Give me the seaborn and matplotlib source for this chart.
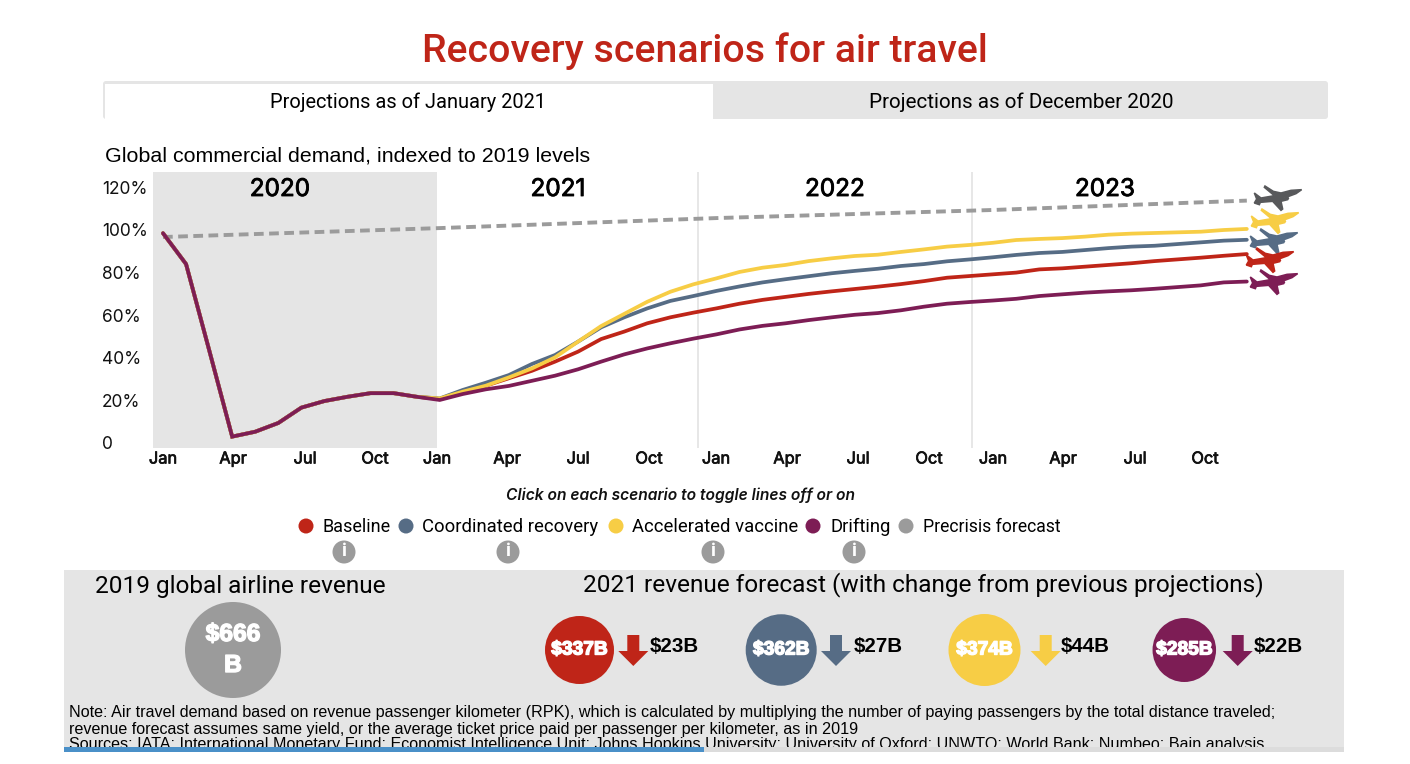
import numpy as np
import pandas as pd
import matplotlib
matplotlib.use("Agg")
import matplotlib.pyplot as plt
import seaborn as sns
from matplotlib.patches import Rectangle, Ellipse, Polygon, FancyBboxPatch
from matplotlib import patheffects as pe

# 数据
history_2020 = [98.5, 84, 43.7, 3, 5.3, 9.4, 16.6, 19.7, 21.7, 23.4, 23.4, 21.7]
baseline = [20.7, 24.1, 26.9, 30.4, 33.9, 38.2, 42.9, 48.8, 52.3, 56.2, 59, 61.2,
            63.2, 65.4, 67.2, 68.6, 70, 71.2, 72.3, 73.4, 74.6, 76, 77.6, 78.4,
            79.2, 80, 81.5, 82, 82.8, 83.6, 84.4, 85.4, 86.2, 87, 87.9, 88.7]
coordinated = [20.9, 24.9, 28.3, 31.9, 37.1, 41.3, 47.6, 54.3, 59, 63.2, 66.7, 69,
               71.4, 73.5, 75.4, 76.9, 78.3, 79.7, 80.8, 81.8, 83.1, 84, 85.3, 86.2,
               87.2, 88.3, 89.2, 89.7, 90.6, 91.5, 92.2, 92.6, 93.4, 94.2, 95, 95.4]
accelerated = [20.9, 24.1, 26.9, 30.8, 35, 40.2, 47.6, 54.9, 60.6, 66.3, 71, 74.5,
               77.3, 80.3, 82.3, 83.6, 85.4, 86.7, 87.8, 88.4, 89.7, 90.9, 92.2, 93,
               94, 95.3, 95.8, 96.2, 96.9, 97.8, 98.3, 98.6, 98.9, 99.2, 100, 100.5]
drifting = [20.2, 23, 25.2, 26.8, 29.2, 31.6, 34.6, 38.2, 41.6, 44.4, 46.8, 49,
            51, 53.3, 55, 56.2, 57.7, 59, 60.2, 61, 62.3, 64, 65.4, 66.2,
            66.9, 67.7, 69, 69.8, 70.6, 71.2, 71.7, 72.4, 73.2, 74, 75.4, 75.8]
precrisis_months = [0, 12, 24, 36, 47]
precrisis = [96.7, 100.9, 105.6, 109.4, 113.8]

scenario_names = ["Baseline", "Coordinated recovery", "Accelerated vaccine", "Drifting"]
scenario_values = [baseline, coordinated, accelerated, drifting]
scenario_colors = ["#bf2518", "#566c85", "#f7cd45", "#7d1d55"]
gray = "#9b9b9b"
panel = "#e5e5e5"

month_labels = ["Jan", "Apr", "Jul", "Oct"] * 4
year_labels = ["2020", "2021", "2022", "2023"]
y_ticks = [0, 20, 40, 60, 80, 100, 120]
y_labels = ["0", "20%", "40%", "60%", "80%", "100%", "120%"]

forecast_labels = ["$337B", "$362B", "$374B", "$285B"]
change_labels = ["$23B", "$27B", "$44B", "$22B"]

note_lines = [
    "Note: Air travel demand based on revenue passenger kilometer (RPK), which is calculated by multiplying the number of paying passengers by the total distance traveled;",
    "revenue forecast assumes same yield, or the average ticket price paid per passenger per kilometer, as in 2019",
    "Sources: IATA; International Monetary Fund; Economist Intelligence Unit; Johns Hopkins University; University of Oxford; UNWTO; World Bank; Numbeo; Bain analysis",
]

# 整理成长表
rows = []
for name, vals in zip(scenario_names, scenario_values):
    for m, v in enumerate(history_2020 + vals):
        rows.append({"month": m, "demand": v, "scenario": name})
df = pd.DataFrame(rows)
pre_df = pd.DataFrame({"month": precrisis_months, "demand": precrisis})

sns.set_theme(style="white")
plt.rcParams["font.family"] = ["Inter", "DejaVu Sans"]
roboto = ["Roboto", "DejaVu Sans"]
arial = ["Liberation Sans"]

W, H = 1410, 764
fig = plt.figure(figsize=(W / 100, H / 100), dpi=100, facecolor="white")

# 背景层, 用像素坐标
bg = fig.add_axes([0, 0, 1, 1], zorder=0)
bg.set_xlim(0, W)
bg.set_ylim(H, 0)
bg.axis("off")

# 折线图
def px_to_month(px):
    return (px - 163) / 23.06

def py_to_value(py):
    return (443 - py) / 2.13

left, right, top, bottom = 153, 1310, 172, 448
ax = fig.add_axes([left / W, 1 - bottom / H, (right - left) / W, (bottom - top) / H], zorder=1)
ax.patch.set_alpha(0)
ax.axvspan(px_to_month(153), px_to_month(437), color=panel, lw=0, zorder=0)
for px in [698, 972]:
    ax.axvline(px_to_month(px), color=panel, lw=1.3, zorder=0)

sns.lineplot(data=pre_df, x="month", y="demand", color=gray, lw=2.8,
             linestyle=(0, (2.5, 1.4)), ax=ax, zorder=3)
sns.lineplot(data=df, x="month", y="demand", hue="scenario", hue_order=scenario_names,
             palette=scenario_colors, lw=2.7, legend=False, ax=ax, zorder=4, errorbar=None,
             solid_joinstyle="miter")
sns.despine(ax=ax, left=True, bottom=True)
ax.set_xlim(px_to_month(left), px_to_month(right))
ax.set_ylim(py_to_value(bottom), py_to_value(top))
tick_px = [163, 233, 305, 375, 437, 507, 578, 649, 716, 787, 858, 929, 993, 1063, 1135, 1205]
ax.set_xticks([px_to_month(p) for p in tick_px])
ax.set_xticklabels(month_labels, fontsize=11.8, color="#111111",
                   path_effects=[pe.withStroke(linewidth=0.5, foreground="#111111")])
ax.set_yticks(y_ticks)
ax.set_yticklabels(y_labels, fontsize=12.5, color="#111111", ha="left")
ax.tick_params(axis="y", length=0, pad=36.7)
ax.tick_params(axis="x", length=0, pad=2.5)
ax.set_xlabel("")
ax.set_ylabel("")
ax.grid(False)

for label, px in zip(year_labels, [280, 558, 835, 1105]):
    ax.text(px_to_month(px), py_to_value(189.5), label, fontsize=17.5, ha="center", va="center", color="black",
            zorder=5, path_effects=[pe.withStroke(linewidth=0.6, foreground="black")])

# 顶部标题和标签页
bg.text(705, 51, "Recovery scenarios for air travel", color="#bf2518", fontsize=28.3,
        fontweight="medium", ha="center", va="center", family=roboto)
bg.add_patch(FancyBboxPatch((103, 81), 1225, 38, boxstyle="round,pad=0,rounding_size=3", fc=panel, ec="none"))
bg.add_patch(Rectangle((105, 84), 608, 35, fc="white", ec="none"))
bg.text(408, 102, "Projections as of January 2021", fontsize=14.4, ha="center", va="center",
        color="black", family=roboto)
bg.text(1021, 102, "Projections as of December 2020", fontsize=14.9, ha="center", va="center",
        color="black", family=roboto)
bg.text(105, 156, "Global commercial demand, indexed to 2019 levels", fontsize=15.4, ha="left", va="center",
        color="black", family=arial)

# 飞机图标
plane = np.array([(457, 60), (425, 62), (395, 70), (372, 65), (347, 49), (345, 53), (375, 78),
                  (335, 85), (315, 70), (322, 88), (315, 100), (330, 105), (333, 98), (370, 95),
                  (395, 122), (400, 118), (395, 95), (415, 90), (418, 85), (405, 85), (440, 72)],
                 dtype=float)
plane = (plane - [386, 85]) / 3
plane_colors = ["#58595b"] + [scenario_colors[2], scenario_colors[1], scenario_colors[0], scenario_colors[3]]
plane_centers = [(1278, 198), (1275, 221), (1274, 241), (1270, 260), (1274, 282)]
for c, (cx, cy) in zip(plane_colors, plane_centers):
    bg.add_patch(Polygon(plane + [cx, cy], closed=True, fc=c, ec=c, lw=1.1))

# 图例
bg.text(680, 495, "Click on each scenario to toggle lines off or on", fontsize=11.2, style="italic",
        fontweight="semibold", ha="center", va="center", color="#111111")
legend_names = scenario_names + ["Precrisis forecast"]
legend_colors = scenario_colors + [gray]
legend_sizes = [13, 13.3, 13.3, 13.3, 12.7]
for name, c, dot_x, text_x, fs in zip(legend_names, legend_colors, [306, 406, 616, 813, 906],
                                      [323, 422, 632, 830, 923], legend_sizes):
    bg.add_patch(Ellipse((dot_x, 526), 15, 15, fc=c, ec="none"))
    bg.text(text_x, 526.5, name, fontsize=fs, ha="left", va="center", color="black", family=roboto)
for px in [344, 508, 713, 854]:
    bg.add_patch(Ellipse((px, 552), 23, 23, fc=gray, ec="none"))
    bg.text(px, 552, "i", fontsize=13, fontweight="bold", color="white", ha="center", va="center")

# 底部面板
bg.add_patch(Rectangle((64, 570), 1280, 182, fc=panel, ec="none"))
bg.text(240, 586, "2019 global airline revenue", fontsize=17.6, ha="center", va="center", color="black",
        family=roboto)
bg.text(923, 585, "2021 revenue forecast (with change from previous projections)", fontsize=17.55,
        ha="center", va="center", color="black", family=roboto)

bg.add_patch(Ellipse((233, 650), 96, 96, fc=gray, ec="none"))
stroke = [pe.withStroke(linewidth=1.0, foreground="white")]
bg.text(233, 634, "$666", fontsize=17.7, fontweight="bold", color="white", ha="center", va="center",
        family=arial, path_effects=stroke)
bg.text(233, 665, "B", fontsize=17.7, fontweight="bold", color="white", ha="center", va="center",
        family=arial, path_effects=stroke)

circles = [(579.5, 650, 69, 68), (781.2, 650, 71, 71.5), (984.5, 650, 72, 72), (1184.3, 650, 63.5, 64)]
arrow_x = [633.3, 836, 1045.7, 1237.7]
change_x = [649.3, 854, 1060.7, 1254]
for i in range(4):
    cx, cy, w, h = circles[i]
    c = scenario_colors[i]
    bg.add_patch(Ellipse((cx, cy), w, h, fc=c, ec="none"))
    bg.text(cx, cy, forecast_labels[i], fontsize=13.8, fontweight="bold", color="white",
            ha="center", va="center", family=arial, path_effects=stroke)
    ax_ = arrow_x[i]
    bg.add_patch(Polygon([(ax_ - 6, 635), (ax_ + 6, 635), (ax_ + 6, 651), (ax_ + 15, 651),
                          (ax_, 666), (ax_ - 15, 651), (ax_ - 6, 651)], closed=True, fc=c, ec="none"))
    bg.text(change_x[i], 647, change_labels[i], fontsize=14.8, fontweight="bold", color="black",
            ha="left", va="center", family=arial)

for line, py in zip(note_lines, [713, 729.5, 745]):
    bg.text(69, py, line, fontsize=11.6, ha="left", va="center", color="black", family=arial)

# 底部滚动条盖住最后一行
bg.add_patch(Rectangle((704, 747), 640, 5, fc="#dcdcdc", ec="none", zorder=6))
bg.add_patch(Rectangle((64, 747), 640, 5, fc="#4a90c8", ec="none", zorder=6))

fig.savefig("out.png", dpi=100)
